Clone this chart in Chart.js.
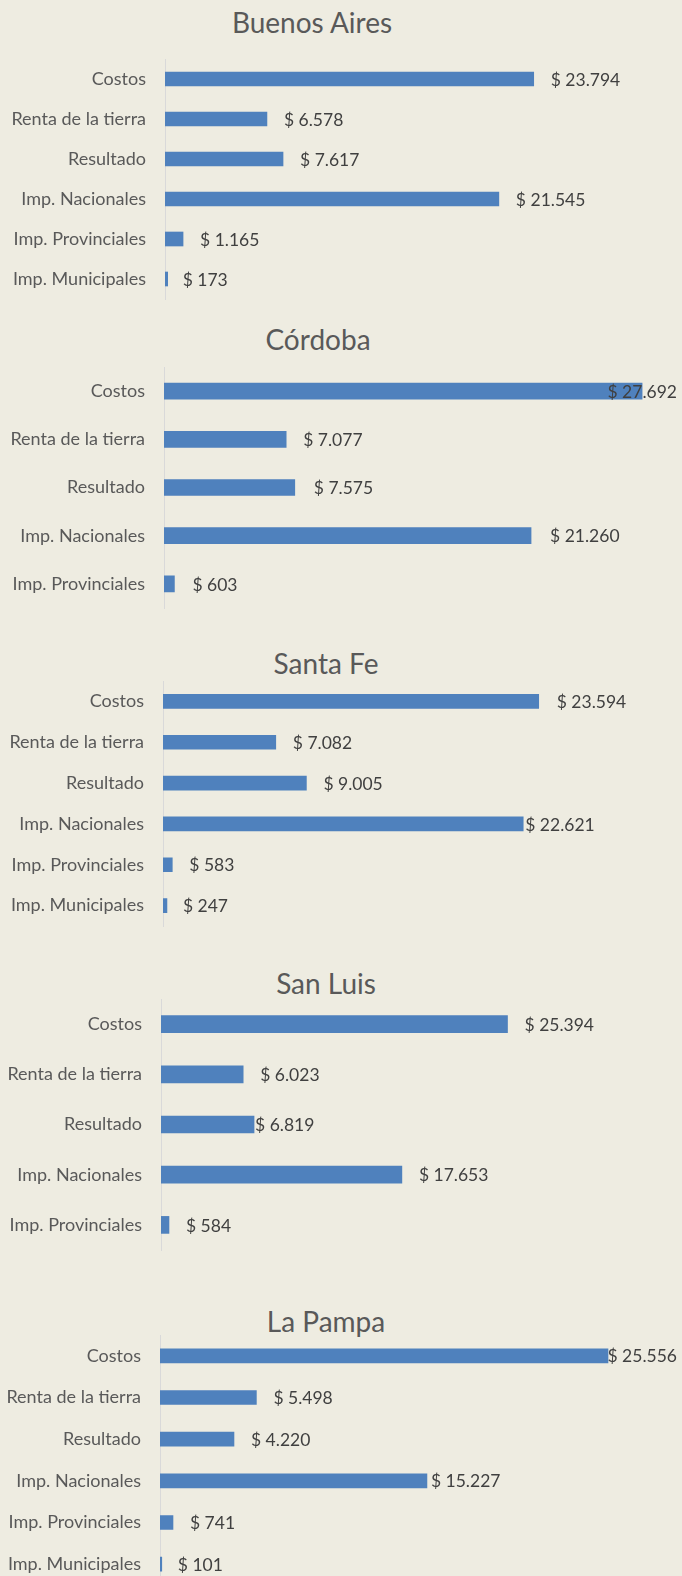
<!DOCTYPE html>
<html><head><meta charset="utf-8">
<script src="https://cdn.jsdelivr.net/npm/chart.js@4.4.0/dist/chart.umd.min.js"></script>
<style>
html,body{margin:0;padding:0;background:#EEECE1;width:682px;height:1576px;overflow:hidden;position:relative}
.box{position:absolute;left:0;width:682px}
.title{position:absolute;font-family:Lato,"Open Sans",sans-serif;color:#595959;font-size:28px;line-height:1;transform:translate(-50%,-50%);white-space:nowrap}
</style></head><body>
<script>
// ---- data ----
const categoriesFull = ['Costos', 'Renta de la tierra', 'Resultado', 'Imp. Nacionales', 'Imp. Provinciales', 'Imp. Municipales'];
const categoriesShort = ['Costos', 'Renta de la tierra', 'Resultado', 'Imp. Nacionales', 'Imp. Provinciales'];
const buenosAiresValues = [23794, 6578, 7617, 21545, 1165, 173];
const cordobaValues = [27692, 7077, 7575, 21260, 603];
const santaFeValues = [23594, 7082, 9005, 22621, 583, 247];
const sanLuisValues = [25394, 6023, 6819, 17653, 584];
const laPampaValues = [25556, 5498, 4220, 15227, 741, 101];
const chartTitles = ['Buenos Aires', 'Córdoba', 'Santa Fe', 'San Luis', 'La Pampa'];

// ---- layout / style ----
const W = 682;
const X_MAX = 28000;
const layouts = [
  {labels: categoriesFull,  values: buenosAiresValues, title: [312, 22],   axisX: 165, top: 59,   bottom: 299,  k: 0.015496, bar: 14, offsets: [17,17,17,17,17,15]},
  {labels: categoriesShort, values: cordobaValues,     title: [318, 339],  axisX: 164, top: 367,  bottom: 608,  k: 0.017265, bar: 16, offsets: [18,17,19,19,18]},
  {labels: categoriesFull,  values: santaFeValues,     title: [326, 663],  axisX: 163, top: 681,  bottom: 926,  k: 0.015924, bar: 14, offsets: [18,17,17,2,17,16]},
  {labels: categoriesShort, values: sanLuisValues,     title: [326, 983],  axisX: 161, top: 999,  bottom: 1250, k: 0.013645, bar: 17, offsets: [17,17,1,17,17]},
  {labels: categoriesFull,  values: laPampaValues,     title: [326, 1321], axisX: 160, top: 1335, bottom: 1585, k: 0.01753,  bar: 14, offsets: [4,17,17,4,17,16]}
];
const FONT = 'Lato';
const TICK_SIZE = 18;
const LABEL_SIZE = 17.5;

function fmt(v){ return '$ ' + String(v).replace(/\B(?=(\d{3})+(?!\d))/g, '.'); }

const valueLabels = {
  id: 'valueLabels',
  afterDatasetsDraw(chart, args, opts){
    const ctx = chart.ctx;
    const meta = chart.getDatasetMeta(0);
    ctx.save();
    ctx.font = LABEL_SIZE + 'px ' + FONT;
    ctx.fillStyle = '#404040';
    ctx.textBaseline = 'middle';
    ctx.textAlign = 'left';
    meta.data.forEach((el, i) => {
      const txt = fmt(chart.data.datasets[0].data[i]);
      const w = ctx.measureText(txt).width;
      let x = el.x + opts.offsets[i];
      if (x + w > W - 5) x = W - 5 - w;
      ctx.fillText(txt, x, el.y + 1);
    });
    ctx.restore();
  }
};

layouts.forEach((L, idx) => {
  const t = document.createElement('div');
  t.className = 'title';
  t.textContent = chartTitles[idx];
  t.style.left = L.title[0] + 'px';
  t.style.top = L.title[1] + 'px';
  document.body.appendChild(t);

  const padT = 12, padB = 12;
  const box = document.createElement('div');
  box.className = 'box';
  box.style.top = (L.top - padT) + 'px';
  const h = Math.round(L.bottom - L.top + padT + padB);
  box.style.height = h + 'px';
  const cv = document.createElement('canvas');
  cv.width = W; cv.height = h;
  cv.style.width = W + 'px'; cv.style.height = h + 'px';
  box.appendChild(cv);
  document.body.appendChild(box);

  const right = W - (L.axisX + X_MAX * L.k);
  new Chart(cv, {
    type: 'bar',
    data: {
      labels: L.labels,
      datasets: [{
        data: L.values,
        backgroundColor: '#4F81BD',
        borderWidth: 0,
        barThickness: L.bar
      }]
    },
    options: {
      indexAxis: 'y',
      responsive: false,
      animation: false,
      devicePixelRatio: 1,
      layout: {padding: {left: 0, right: right, top: padT, bottom: padB}},
      plugins: {
        legend: {display: false},
        tooltip: {enabled: false},
        title: {display: false},
        valueLabels: {offsets: L.offsets}
      },
      scales: {
        x: {display: false, min: 0, max: X_MAX},
        y: {
          afterFit(scale){ scale.width = L.axisX; scale.paddingTop = 0; scale.paddingBottom = 0; },
          grid: {display: false, drawTicks: false},
          border: {display: true, color: '#D9D9D9', width: 1},
          ticks: {color: '#595959', font: {family: FONT, size: TICK_SIZE}, padding: 19, autoSkip: false}
        }
      }
    },
    plugins: [valueLabels]
  });
});
</script>
</body></html>
